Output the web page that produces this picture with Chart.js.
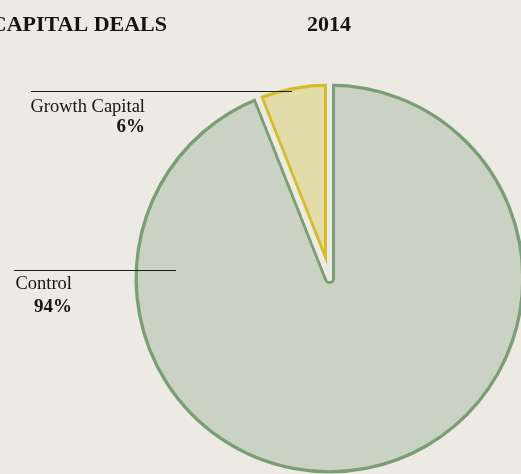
<!DOCTYPE html>
<html>
<head>
<meta charset="utf-8">
<script src="https://cdn.jsdelivr.net/npm/chart.js@4/dist/chart.umd.min.js"></script>
<style>
  html, body { margin: 0; padding: 0; background: #edeae3; overflow: hidden; }
  #wrap { position: relative; width: 521px; height: 474px; overflow: hidden; background: #edeae3; }
  #c { position: absolute; left: 0; top: 0; }
</style>
</head>
<body>
<div id="wrap"><canvas id="c" width="659" height="557" style="width:659px;height:557px"></canvas></div>
<script>
// ---- data ----
const categories = ['Control', 'Growth Capital'];
const shares = [94, 6];
const shareLabels = ['94%', '6%'];
const titleText = 'CAPITAL DEALS';
const yearText = '2014';

// ---- styles ----
const BG = '#edeae3';
const fills = ['#cad3c3', '#e2dca8'];
const borders = ['#7c9e77', '#d3bd2c'];
const GAP = 2.5;      // background inset along each slice edge
const LINE = 3;       // coloured outline width

// label layout (pixels, page coordinates)
const labelLayout = [
  { right: 72,  lineY: 270.5, lineX0: 14, lineX1: 176, nameY: 289, pctY: 312 },
  { right: 145, lineY: 91.5,  lineX0: 31, lineX1: 292, nameY: 112, pctY: 132 }
];

// draws a background-coloured stroke along every slice outline, opening the gaps between slices
const gapPlugin = {
  id: 'gapPlugin',
  afterDatasetsDraw(chart) {
    const ctx = chart.ctx;
    const meta = chart.getDatasetMeta(0);
    meta.data.forEach(arc => {
      const saved = arc.options;
      arc.options = Object.assign({}, saved, {
        backgroundColor: 'rgba(0,0,0,0)',
        borderColor: BG,
        borderWidth: GAP * 2,
        borderAlign: 'center',
        borderJoinStyle: 'round',
        borderDash: [],
        borderDashOffset: 0
      });
      ctx.save();
      arc.draw(ctx);
      ctx.restore();
      arc.options = saved;
    });
  }
};

const textPlugin = {
  id: 'textPlugin',
  afterDraw(chart) {
    const ctx = chart.ctx;
    ctx.save();
    ctx.fillStyle = '#141414';
    ctx.textBaseline = 'alphabetic';
    // titles
    ctx.font = 'bold 22px "Liberation Serif", serif';
    ctx.textAlign = 'right';
    ctx.fillText(titleText, 167, 31);
    ctx.textAlign = 'center';
    ctx.fillText(yearText, 329, 31);
    // labels + leader lines
    labelLayout.forEach((L, i) => {
      ctx.strokeStyle = '#1e1e1e';
      ctx.lineWidth = 1.2;
      ctx.beginPath();
      ctx.moveTo(L.lineX0, L.lineY);
      ctx.lineTo(L.lineX1, L.lineY);
      ctx.stroke();
      ctx.textAlign = 'right';
      ctx.font = '18.5px "Liberation Serif", serif';
      ctx.fillText(categories[i], L.right, L.nameY);
      ctx.font = 'bold 19px "Liberation Serif", serif';
      ctx.fillText(shareLabels[i], L.right, L.pctY);
    });
    ctx.restore();
  }
};

new Chart(document.getElementById('c'), {
  type: 'pie',
  data: {
    labels: categories,
    datasets: [{
      data: shares,
      backgroundColor: fills,
      borderColor: borders,
      borderWidth: GAP + LINE,
      borderAlign: 'inner'
    }]
  },
  options: {
    responsive: false,
    devicePixelRatio: 1,
    animation: false,
    events: [],
    radius: 197.5,
    rotation: 0,
    layout: { padding: 0 },
    plugins: {
      legend: { display: false },
      tooltip: { enabled: false },
      title: { display: false }
    }
  },
  plugins: [gapPlugin, textPlugin]
});
</script>
</body>
</html>
